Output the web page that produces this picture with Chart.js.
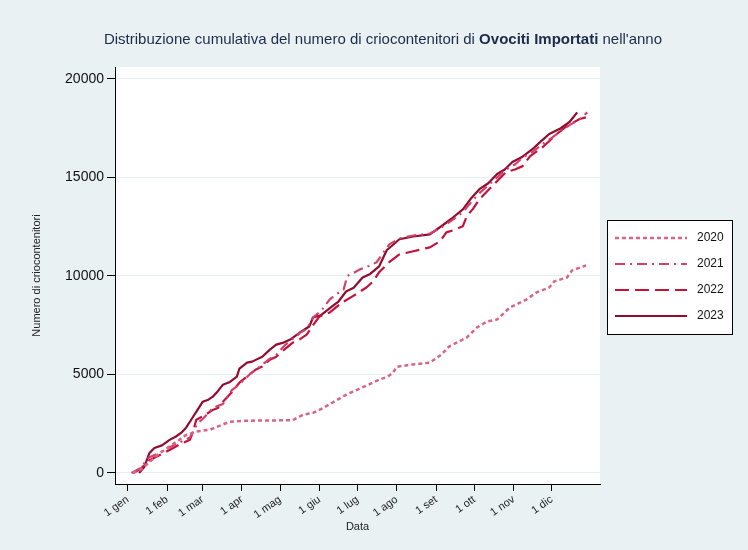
<!DOCTYPE html>
<html>
<head>
<meta charset="utf-8">
<script src="https://cdn.jsdelivr.net/npm/chart.js@4.4.0/dist/chart.umd.min.js"></script>
<style>
  html, body { margin: 0; padding: 0; background: #E9F1F3; }
  canvas { display: block; }
</style>
</head>
<body>
<canvas id="chart" width="748" height="550" style="width:748px;height:550px"></canvas>
<script>
// month starts (day of year) and their labels
const monthDays = [0, 31, 59, 90, 120, 151, 181, 212, 243, 273, 304, 334];
const monthLabels = ["1 gen", "1 feb", "1 mar", "1 apr", "1 mag", "1 giu",
  "1 lug", "1 ago", "1 set", "1 ott", "1 nov", "1 dic"];
const yTicks = [0, 5000, 10000, 15000, 20000];

// cumulative counts
const days2020 = [4, 10, 18, 25, 32, 40, 46, 54, 65, 80, 92, 104, 120, 130, 138, 146, 154, 161, 170, 177, 188, 198, 205, 209, 212, 224, 238, 247, 253, 267, 275, 283, 291, 301, 314, 322, 332, 336, 346, 350, 361];
const vals2020 = [0, 150, 600, 1000, 1300, 1650, 1930, 2100, 2200, 2590, 2650, 2660, 2670, 2680, 2950, 3050, 3300, 3560, 3900, 4120, 4430, 4730, 4890, 5090, 5390, 5500, 5600, 6000, 6410, 6870, 7380, 7680, 7790, 8400, 8800, 9160, 9410, 9720, 9920, 10280, 10530];

const days2021 = [3, 10, 17, 25, 33, 41, 49, 55, 60, 67, 75, 82, 88, 96, 106, 112, 117, 124, 130, 136, 141, 146, 152, 159, 165, 170, 173, 178, 183, 190, 196, 206, 214, 225, 238, 247, 255, 264, 270, 277, 284, 291, 298, 305, 311, 319, 327, 334, 340, 348, 356, 362];
const vals2021 = [0, 250, 800, 1000, 1300, 1550, 1800, 2500, 2800, 3300, 3500, 4200, 4500, 5000, 5500, 5800, 6000, 6500, 6800, 7120, 7300, 7900, 8200, 8800, 9100, 9300, 10000, 10150, 10330, 10500, 10690, 11600, 11900, 12050, 12150, 12450, 12800, 13230, 13700, 14200, 14600, 15000, 15400, 15650, 16000, 16300, 16700, 17000, 17300, 17650, 17950, 18300];

const days2022 = [4, 10, 17, 25, 33, 41, 49, 52, 54, 60, 67, 71, 75, 82, 88, 96, 101, 106, 112, 117, 124, 130, 136, 141, 146, 151, 159, 164, 169, 177, 183, 188, 193, 198, 206, 214, 225, 238, 246, 251, 258, 264, 267, 272, 277, 287, 298, 305, 311, 317, 327, 338, 346, 356, 362];
const vals2022 = [0, 200, 650, 900, 1170, 1450, 1680, 2200, 2700, 2900, 3200, 3300, 3610, 4100, 4580, 5000, 5250, 5400, 5750, 5900, 6300, 6610, 6800, 7020, 7500, 7940, 8140, 8400, 8650, 8960, 9200, 9410, 9700, 10180, 10700, 11090, 11250, 11450, 11760, 12210, 12350, 12520, 13030, 13400, 13890, 14550, 15270, 15400, 15570, 16080, 16540, 17200, 17610, 17960, 18060];

const days2023 = [9, 13, 17, 21, 27, 33, 38, 42, 46, 50, 55, 59, 63, 67, 71, 75, 80, 86, 88, 90, 94, 98, 106, 112, 117, 122, 128, 135, 143, 146, 152, 161, 166, 172, 178, 185, 191, 198, 204, 214, 225, 238, 247, 255, 264, 270, 277, 284, 291, 297, 303, 311, 319, 325, 332, 340, 348, 354];
const vals2023 = [0, 300, 1000, 1270, 1400, 1680, 1850, 2030, 2300, 2700, 3200, 3610, 3700, 3870, 4150, 4480, 4600, 4890, 5300, 5400, 5600, 5650, 5900, 6260, 6510, 6600, 6770, 7100, 7430, 7890, 8000, 8450, 8700, 9210, 9400, 9920, 10100, 10480, 11300, 11860, 12000, 12110, 12520, 12900, 13380, 13900, 14400, 14700, 15170, 15400, 15780, 16050, 16440, 16800, 17200, 17450, 17810, 18300];

const FONT = "'Liberation Sans', Arial, sans-serif";

function toPoints(days, vals) {
  return days.map((d, i) => ({ x: d, y: vals[i] }));
}

const series = [
  { label: "2020", days: days2020, vals: vals2020, color: "#DB6485", dash: [4, 3], width: 2.5 },
  { label: "2021", days: days2021, vals: vals2021, color: "#D2416C", dash: [10, 5, 2, 5], width: 2.2 },
  { label: "2022", days: days2022, vals: vals2022, color: "#C6113A", dash: [14, 6], width: 2.2 },
  { label: "2023", days: days2023, vals: vals2023, color: "#930B2E", dash: [], width: 2.2 },
];

const bgPlugin = {
  id: "bg",
  beforeDraw(chart) {
    const { ctx, chartArea: a } = chart;
    ctx.save();
    ctx.fillStyle = "#E9F1F3";
    ctx.fillRect(0, 0, chart.width, chart.height);
    ctx.fillStyle = "#ffffff";
    ctx.fillRect(a.left, a.top, a.right - a.left, a.bottom - a.top);
    ctx.restore();
  }
};

const textPlugin = {
  id: "texts",
  afterDraw(chart) {
    const { ctx, chartArea: a } = chart;
    ctx.save();
    // title with a bold part
    const parts = [
      ["Distribuzione cumulativa del numero di criocontenitori di ", "normal"],
      ["Ovociti Importati", "bold"],
      [" nell'anno", "normal"],
    ];
    let total = 0;
    parts.forEach(p => { ctx.font = p[1] + " 15px " + FONT; total += ctx.measureText(p[0]).width; });
    let x = 383 - total / 2;
    ctx.fillStyle = "#1E2B4A";
    ctx.textBaseline = "middle";
    ctx.textAlign = "left";
    parts.forEach(p => {
      ctx.font = p[1] + " 15px " + FONT;
      ctx.fillText(p[0], x, 40);
      x += ctx.measureText(p[0]).width;
    });

    // axis titles
    ctx.fillStyle = "#222";
    ctx.font = "11px " + FONT;
    ctx.textAlign = "center";
    ctx.fillText("Data", (a.left + a.right) / 2, 527);
    ctx.translate(37, (a.top + a.bottom) / 2);
    ctx.rotate(-Math.PI / 2);
    ctx.fillText("Numero di criocontenitori", 0, 0);
    ctx.restore();

    // legend
    ctx.save();
    ctx.fillStyle = "#ffffff";
    ctx.fillRect(607, 220, 125, 114);
    ctx.strokeStyle = "#000";
    ctx.lineWidth = 1;
    ctx.strokeRect(607.5, 220.5, 125, 114);
    chart.data.datasets.forEach((ds, i) => {
      const y = 238 + i * 26;
      ctx.beginPath();
      ctx.setLineDash(ds.borderDash);
      ctx.strokeStyle = ds.borderColor;
      ctx.lineWidth = ds.borderWidth;
      ctx.moveTo(615, y);
      ctx.lineTo(687, y);
      ctx.stroke();
      ctx.setLineDash([]);
      ctx.fillStyle = "#111";
      ctx.font = "12px " + FONT;
      ctx.textAlign = "left";
      ctx.textBaseline = "middle";
      ctx.fillText(ds.label, 697, y);
    });
    ctx.restore();
  }
};

new Chart(document.getElementById("chart"), {
  type: "line",
  data: {
    datasets: series.map(s => ({
      label: s.label,
      data: toPoints(s.days, s.vals),
      borderColor: s.color,
      borderDash: s.dash,
      borderWidth: s.width,
      borderJoinStyle: "round",
      pointRadius: 0,
      fill: false,
      tension: 0,
    })),
  },
  options: {
    responsive: false,
    animation: false,
    layout: { padding: { left: 10, top: 67, right: 148, bottom: 0 } },
    plugins: { legend: { display: false }, tooltip: { enabled: false } },
    scales: {
      x: {
        type: "linear",
        min: -10,
        max: 372,
        afterBuildTicks: (scale) => { scale.ticks = monthDays.map(v => ({ value: v })); },
        afterFit: (scale) => { scale.height = 66; },
        ticks: {
          autoSkip: false,
          maxRotation: 35,
          minRotation: 35,
          padding: 2,
          color: "#222",
          font: { family: FONT, size: 11 },
          callback: (v) => monthLabels[monthDays.indexOf(v)],
        },
        grid: { drawOnChartArea: false, tickColor: "#000", tickLength: 7 },
        border: { display: true, color: "#000", width: 1 },
      },
      y: {
        min: -560,
        max: 20600,
        afterBuildTicks: (scale) => { scale.ticks = yTicks.map(v => ({ value: v })); },
        afterFit: (scale) => { scale.width = 105; },
        ticks: {
          padding: 3,
          color: "#111",
          font: { family: FONT, size: 14 },
          callback: (v) => String(v),
        },
        grid: { color: "#E5EEF0", lineWidth: 1, tickColor: "#000", tickLength: 8 },
        border: { display: true, color: "#000", width: 1 },
      },
    },
  },
  plugins: [bgPlugin, textPlugin],
});
</script>
</body>
</html>
